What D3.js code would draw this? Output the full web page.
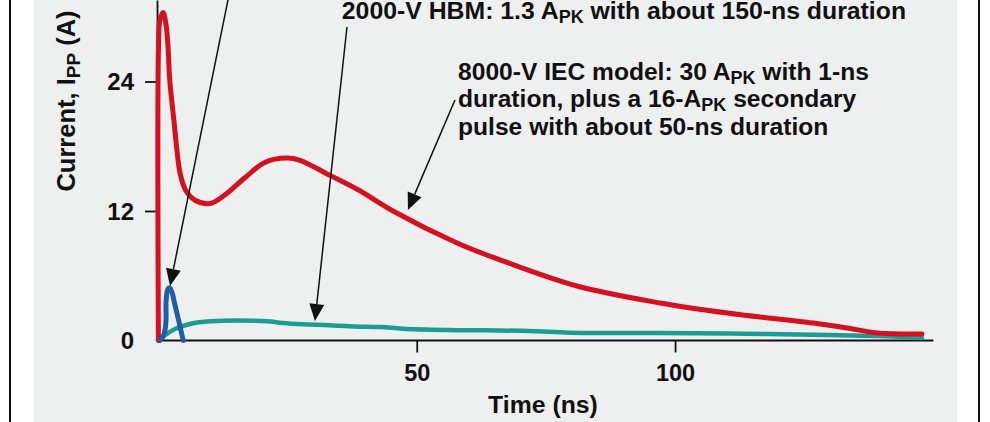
<!DOCTYPE html>
<html><head><meta charset="utf-8">
<script src="https://cdn.jsdelivr.net/npm/d3@7"></script>
<style>
html,body{margin:0;padding:0;background:#fff;}
svg{display:block;}
text{font-family:"Liberation Sans",Arial,sans-serif;font-weight:bold;fill:#111;}
</style></head>
<body>
<script>
// ---- data (time in ns, current in A) ----
const iecTime = [0, 0.02, 0.3, 0.9, 1.5, 1.9, 2.2, 3.0, 3.6, 4.2, 5.3, 7.1, 10.0, 12.9, 16.8, 20.6, 24.9, 27.4, 33.2, 38.9, 45.4, 57.8, 66.7, 81.0, 97.1, 110.1, 128.0, 133.3, 139.1, 147.8];
const iecCurrent = [0, 27.2, 29.7, 30.4, 29.2, 26.9, 24.1, 20.4, 17.6, 15.5, 13.9, 13.0, 12.7, 13.5, 15.1, 16.5, 16.9, 16.7, 15.3, 13.9, 12.0, 9.04, 7.37, 5.05, 3.48, 2.55, 1.53, 1.16, 0.70, 0.60];

const hbmTime = [0, 1.3, 3.2, 6.1, 10, 21, 24, 28, 33, 38, 43, 47.3, 55.9, 71.9, 79.7, 97.1, 118.4, 139.1, 147.8];
const hbmCurrent = [0, 0.5, 1.07, 1.53, 1.78, 1.78, 1.62, 1.5, 1.42, 1.3, 1.25, 1.1, 0.98, 0.88, 0.72, 0.70, 0.60, 0.42, 0.23];

const mmTime = [0.3, 1.1, 1.45, 1.5, 1.86, 2.2, 2.6, 3.2, 4.0, 4.8];
const mmCurrent = [0, 0.6, 1.7, 3.75, 4.8, 4.87, 4.5, 3.3, 1.7, 0];

const xTicks = [50, 100];
const yTicks = [0, 12, 24];

// annotations: [startTime, startCurrent, tipTime, tipCurrent]
const arrows = [
  [13.47, 31.56, 2.25, 5.05],
  [36.5, 29.05, 30.3, 1.81],
  [57.4, 22.29, 48.3, 12.09]
];
const hbmNote = {t: 35.5, v: 29.77, parts: [["2000-V HBM: 1.3 A", false], ["PK", true], [" with about 150-ns duration", false]]};
const iecNote = {t: 58, v: 24.14, lines: [
  [["8000-V IEC model: 30 A", false], ["PK", true], [" with 1-ns", false]],
  [["duration, plus a 16-A", false], ["PK", true], [" secondary", false]],
  [["pulse with about 50-ns duration", false]]
]};

// ---- drawing ----
const W = 990, H = 422;
const svg = d3.select("body").append("svg").attr("width", W).attr("height", H);

svg.append("rect").attr("x", 0).attr("y", 0).attr("width", W).attr("height", H).attr("fill", "#fff");
svg.append("rect").attr("x", 34).attr("y", 0).attr("width", 923).attr("height", H).attr("fill", "#eeefef");
svg.append("rect").attr("x", 9).attr("y", 0).attr("width", 2).attr("height", H).attr("fill", "#111");
svg.append("rect").attr("x", 978).attr("y", 0).attr("width", 2).attr("height", H).attr("fill", "#111");

const x = d3.scaleLinear().domain([0, 150]).range([158.4, 933.4]);
const y = d3.scaleLinear().domain([0, 31.55]).range([340.5, 0]);

const FONT = "Liberation Sans, Arial, sans-serif";

// y axis
const yAxis = svg.append("g").attr("transform", `translate(${x(0) - 1.4},0)`)
  .call(d3.axisLeft(y).tickValues(yTicks).tickSize(12).tickPadding(11).tickSizeOuter(0));
yAxis.select(".domain").attr("stroke", "#111").attr("stroke-width", 1.8);
yAxis.selectAll(".tick line").attr("stroke", "#111").attr("stroke-width", 1.8)
  .filter(d => d === 0).remove();
yAxis.selectAll(".tick text").attr("font-size", 24).attr("font-family", FONT).attr("font-weight", "bold").attr("fill", "#111").attr("dy", "0.34em");

// x axis
const xAxis = svg.append("g").attr("transform", `translate(0,${y(0)})`)
  .call(d3.axisBottom(x).tickValues(xTicks).tickSize(12).tickPadding(11).tickSizeOuter(0));
xAxis.select(".domain").attr("stroke", "#111").attr("stroke-width", 1.8)
  .attr("d", `M${x(0) - 1.4},0H${x(150)}`);
xAxis.selectAll(".tick line").attr("stroke", "#111").attr("stroke-width", 1.8);
xAxis.selectAll(".tick text").attr("font-size", 23.5).attr("font-family", FONT).attr("font-weight", "bold").attr("fill", "#111").attr("dy", "0.74em");

// axis titles
svg.append("text").attr("x", 543).attr("y", 413).attr("text-anchor", "middle").attr("font-size", 24.8).text("Time (ns)");
const yt = svg.append("text").attr("transform", "translate(75,101) rotate(-90)").attr("text-anchor", "middle").attr("font-size", 25.5);
yt.append("tspan").text("Current, I");
yt.append("tspan").attr("font-size", 19).attr("dy", 5).text("PP");
yt.append("tspan").attr("dy", -5).text(" (A)");

// curves
const line = d3.line().x(d => x(d[0])).y(d => y(d[1])).curve(d3.curveCatmullRom.alpha(0.5));
const hbm = d3.zip(hbmTime, hbmCurrent);
const iec = d3.zip(iecTime, iecCurrent);
const mm = d3.zip(mmTime, mmCurrent);
svg.append("path").datum(hbm).attr("d", line).attr("fill", "none").attr("stroke", "#1d9c95").attr("stroke-width", 4.5).attr("stroke-linejoin", "round").attr("stroke-linecap", "round");
svg.append("path").datum(iec).attr("d", line).attr("fill", "none").attr("stroke", "#d4111f").attr("stroke-width", 5).attr("stroke-linejoin", "round").attr("stroke-linecap", "round");
svg.append("path").datum(mm).attr("d", line).attr("fill", "none").attr("stroke", "#1f5ea6").attr("stroke-width", 5).attr("stroke-linejoin", "round").attr("stroke-linecap", "round");

// arrows
arrows.forEach(a => {
  const x1 = x(a[0]), y1 = y(a[1]), x2 = x(a[2]), y2 = y(a[3]);
  const ang = Math.atan2(y2 - y1, x2 - x1);
  const L = 17, hw = 7.5;
  const bx = x2 - L * Math.cos(ang), by = y2 - L * Math.sin(ang);
  svg.append("line").attr("x1", x1).attr("y1", y1).attr("x2", bx).attr("y2", by).attr("stroke", "#111").attr("stroke-width", 1.5);
  const px = -Math.sin(ang) * hw, py = Math.cos(ang) * hw;
  svg.append("path").attr("d", `M${x2},${y2}L${bx + px},${by + py}L${bx - px},${by - py}Z`).attr("fill", "#111");
});

// annotation text
function writeParts(sel, parts, sub) {
  let shifted = false;
  parts.forEach(p => {
    const ts = sel.append("tspan").text(p[0]);
    if (p[1] && !shifted) { ts.attr("font-size", sub).attr("dy", 4); shifted = true; }
    else if (!p[1] && shifted) { ts.attr("dy", -4); shifted = false; }
  });
}
const t1 = svg.append("text").attr("x", x(hbmNote.t)).attr("y", y(hbmNote.v)).attr("font-size", 24.8);
writeParts(t1, hbmNote.parts, 18);
iecNote.lines.forEach((ln, i) => {
  const t = svg.append("text").attr("x", x(iecNote.t)).attr("y", y(iecNote.v) + i * 27.5).attr("font-size", 24.6);
  writeParts(t, ln, 18);
});
</script>
</body></html>
